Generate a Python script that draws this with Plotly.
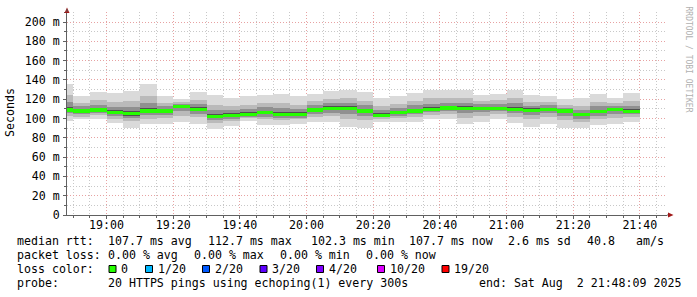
import pandas as pd
import plotly.graph_objects as go

# ---------------- data (5-minute bins, end times from 18:50 to 21:40) ----------------
bin_start_end = "2025-08-02 18:50:00"
n_bins = 35
median = [108.8, 107.8, 108.8, 106.0, 105.0, 107.8, 107.8, 112.7, 109.8, 102.3,
          103.3, 104.3, 106.0, 104.3, 104.0, 108.8, 110.6, 110.6, 107.8, 103.3,
          106.0, 107.8, 109.5, 110.9, 110.6, 110.6, 110.6, 109.8, 108.5, 109.8,
          107.8, 104.0, 107.0, 109.5, 107.7]
smoke_min = [97.5, 99.0, 99.5, 95.5, 90.2, 93.8, 94.0, 96.5, 94.5, 89.4,
             92.3, 97.0, 93.5, 93.0, 94.5, 96.0, 96.0, 91.5, 89.8, 96.5,
             96.2, 96.7, 99.0, 100.0, 93.8, 96.8, 99.5, 95.8, 91.3, 94.8,
             90.0, 90.0, 92.8, 94.0, 96.5]
smoke_p10 = [102.5, 101.5, 103.5, 100.0, 97.0, 100.0, 100.5, 103.0, 101.5, 95.5,
             97.5, 100.5, 99.0, 98.0, 99.0, 101.5, 102.5, 100.0, 98.0, 99.5,
             100.5, 101.5, 103.5, 104.5, 101.0, 103.0, 104.5, 102.0, 99.0, 101.5,
             98.0, 96.3, 99.2, 101.0, 101.5]
smoke_p25 = [105.5, 104.5, 106.0, 103.0, 100.5, 103.5, 103.5, 107.5, 105.0, 98.5,
             100.0, 102.0, 102.0, 101.0, 101.0, 105.0, 106.0, 105.0, 102.5, 101.3,
             103.0, 104.5, 106.5, 107.5, 105.5, 106.5, 107.3, 105.5, 103.3, 105.3,
             102.5, 99.8, 102.7, 104.8, 104.3]
smoke_p40 = [107.5, 106.5, 107.5, 104.5, 103.0, 106.0, 106.0, 110.5, 108.0, 100.5,
             102.0, 103.5, 104.5, 103.0, 103.0, 107.0, 109.0, 108.5, 105.5, 102.5,
             105.0, 106.5, 108.3, 109.5, 108.5, 109.0, 109.3, 108.0, 106.5, 108.0,
             105.7, 102.3, 105.3, 107.6, 106.4]
smoke_p60 = [112.0, 109.5, 111.0, 108.5, 108.0, 111.0, 109.5, 113.5, 112.0, 105.0,
             105.5, 106.5, 108.0, 107.0, 106.5, 111.0, 112.5, 113.0, 110.0, 105.5,
             108.0, 110.0, 112.0, 113.0, 113.0, 112.3, 112.4, 112.3, 110.4, 111.4,
             109.2, 106.0, 109.2, 111.0, 110.0]
smoke_p75 = [117.0, 112.5, 114.5, 112.0, 112.0, 116.0, 112.5, 115.0, 115.0, 109.0,
             108.5, 110.0, 111.5, 110.5, 110.0, 113.8, 116.0, 116.5, 113.5, 108.8,
             111.0, 113.5, 115.5, 116.5, 116.5, 114.7, 115.0, 115.8, 113.2, 113.8,
             111.4, 109.1, 112.6, 113.1, 113.3]
smoke_p90 = [124.0, 116.0, 119.0, 117.0, 118.0, 123.0, 116.5, 117.0, 119.5, 114.5,
             113.0, 114.5, 116.0, 116.0, 114.5, 118.0, 120.5, 121.0, 118.5, 113.3,
             115.5, 118.0, 121.0, 121.0, 121.0, 118.0, 118.8, 121.0, 117.2, 117.2,
             114.4, 113.4, 117.2, 116.1, 118.0]
smoke_max = [136.0, 123.5, 127.5, 126.5, 128.5, 136.0, 123.5, 120.5, 127.5, 124.5,
             121.0, 123.0, 124.5, 125.5, 123.5, 125.5, 128.5, 130.0, 127.5, 121.5,
             123.3, 126.5, 130.0, 129.7, 130.0, 124.3, 125.5, 130.0, 124.3, 123.3,
             119.8, 121.0, 125.5, 121.5, 126.5]

y_tick_vals = [0, 20, 40, 60, 80, 100, 120, 140, 160, 180, 200]
y_tick_text = ["0", "20 m", "40 m", "60 m", "80 m", "100 m", "120 m", "140 m",
               "160 m", "180 m", "200 m"]
x_range = ["2025-08-02 18:48:09", "2025-08-02 21:48:09"]

row_labels = ["median rtt:", "packet loss:", "loss color:", "probe:"]
rtt_items = ["107.7 ms avg", "112.7 ms max", "102.3 ms min", "107.7 ms now",
             "2.6 ms sd", "40.8", "am/s"]
loss_items = ["0.00 % avg", "0.00 % max", "0.00 % min", "0.00 % now"]
loss_color_labels = ["0", "1/20", "2/20", "3/20", "4/20", "10/20", "19/20"]
loss_colors = ["#26ff00", "#00b8ff", "#0059ff", "#5e00ff", "#7e00ff", "#dd00ff", "#ff0000"]
probe_text = "20 HTTPS pings using echoping(1) every 300s"
end_text = "end: Sat Aug  2 21:48:09 2025"
watermark = "RRDTOOL / TOBI OETIKER"

# ---------------- geometry helpers (pixel -> paper) ----------------
W, H = 697, 297
L, R, T, B = 67, 30, 12, 82
PW, PH = W - L - R, H - T - B
def px(x):
    return (x - L) / PW
def py(y):
    return (H - B - y) / PH

MONO = "DejaVu Sans Mono"
FS = 11.6

ends = pd.date_range(bin_start_end, periods=n_bins, freq="5min")
centers = ends - pd.Timedelta(seconds=150)
BW = 300000

fig = go.Figure()
layers = [(smoke_min, smoke_max, "#dadada"),
          (smoke_p10, smoke_p90, "#bababa"),
          (smoke_p25, smoke_p75, "#909090"),
          (smoke_p40, smoke_p60, "#505050")]
for lo, hi, col in layers:
    fig.add_trace(go.Bar(x=centers, base=lo, y=[h - l for l, h in zip(lo, hi)],
                         width=BW, marker=dict(color=col, line=dict(width=0)),
                         hoverinfo="skip", showlegend=False))
MED_H = 3.2
fig.add_trace(go.Bar(x=centers, base=[m - MED_H / 2 for m in median],
                     y=[MED_H] * n_bins, width=BW,
                     marker=dict(color=loss_colors[0], line=dict(width=0)),
                     hoverinfo="skip", showlegend=False))

MAJ = "#e7a2a2"
MIN = "#c8c8c8"
DASH = "1px,2px"
fig.update_layout(
    width=W, height=H, autosize=False,
    margin=dict(l=L, r=R, t=T, b=B, pad=0),
    paper_bgcolor="white", plot_bgcolor="white",
    barmode="overlay", bargap=0, showlegend=False,
    font=dict(family=MONO, size=FS, color="black"),
    xaxis=dict(type="date", range=x_range, tickformat="%H:%M",
               tick0="2025-08-02 19:00:00", dtick=1200000,
               showgrid=True, gridcolor=MAJ, griddash=DASH, gridwidth=1,
               ticks="outside", ticklen=3, tickcolor="#606060",
               ticklabelstandoff=-4,
               showline=True, linecolor="#606060", linewidth=1,
               zeroline=False, tickfont=dict(family=MONO, size=FS),
               minor=dict(dtick=300000, tick0="2025-08-02 19:00:00",
                          showgrid=True, gridcolor=MIN, griddash=DASH,
                          ticks="outside", ticklen=2, tickcolor="#606060"),
               fixedrange=True),
    yaxis=dict(range=[0, PH / 0.965], tickmode="array",
               tickvals=y_tick_vals, ticktext=y_tick_text,
               showgrid=True, gridcolor=MAJ, griddash=DASH, gridwidth=1,
               ticks="outside", ticklen=3, tickcolor="#606060",
               ticklabelstandoff=1,
               showline=True, linecolor="#606060", linewidth=1,
               zeroline=False, tickfont=dict(family=MONO, size=FS),
               minor=dict(dtick=10, tick0=0, showgrid=True, gridcolor=MIN,
                          griddash=DASH, ticks="outside", ticklen=2,
                          tickcolor="#606060"),
               fixedrange=True),
)

shapes = []
# axis arrows
ARROW = "#a01818"
shapes.append(dict(type="path", xref="paper", yref="paper",
                   path=f"M {px(64.5)} {py(13)} L {px(67)} {py(7.5)} L {px(69.5)} {py(13)} Z",
                   fillcolor=ARROW, line=dict(width=0)))
shapes.append(dict(type="line", xref="paper", yref="paper",
                   x0=px(67), x1=px(67), y0=py(12), y1=py(9), line=dict(color="#606060", width=1)))
shapes.append(dict(type="line", xref="paper", yref="paper",
                   x0=px(667), x1=px(670), y0=0, y1=0, line=dict(color="#606060", width=1)))
shapes.append(dict(type="path", xref="paper", yref="paper",
                   path=f"M {px(668)} {py(212.5)} L {px(673.5)} {py(215)} L {px(668)} {py(217.5)} Z",
                   fillcolor=ARROW, line=dict(width=0)))

ann = []
def text(x, y, s, **kw):
    d = dict(x=px(x), y=py(y), xref="paper", yref="paper", text=s, showarrow=False,
             xanchor="left", yanchor="middle", borderpad=0,
             font=dict(family=MONO, size=FS, color="black"))
    d.update(kw)
    ann.append(d)

rows_y = [241, 255, 269, 283]
for lab, yy in zip(row_labels, rows_y):
    text(16, yy, lab)
for s, xx in zip(rtt_items, [107, 207, 310, 408, 507, 586, 635]):
    text(xx, rows_y[0], s)
for s, xx in zip(loss_items, [107, 193, 279, 365]):
    text(xx, rows_y[1], s)
for s, c, xx in zip(loss_color_labels, loss_colors, [109, 145.5, 202.5, 260, 316.5, 377.5, 442]):
    shapes.append(dict(type="rect", xref="paper", yref="paper",
                       x0=px(xx), x1=px(xx + 7), y0=py(265.5), y1=py(272.5),
                       fillcolor=c, line=dict(color="black", width=1)))
    text(xx + 11, rows_y[2], s)
text(107, rows_y[3], probe_text)
text(478, rows_y[3], end_text)

ann.append(dict(x=px(10), y=py(113), xref="paper", yref="paper", text="Seconds",
                showarrow=False, textangle=-90, xanchor="center", yanchor="middle",
                font=dict(family=MONO, size=FS, color="black")))
ann.append(dict(x=px(688.5), y=py(59), xref="paper", yref="paper", text=watermark,
                showarrow=False, textangle=90, xanchor="center", yanchor="middle",
                font=dict(family=MONO, size=8, color="#b0b0b0")))

fig.update_layout(shapes=shapes, annotations=ann)
fig.write_html("out.html")
